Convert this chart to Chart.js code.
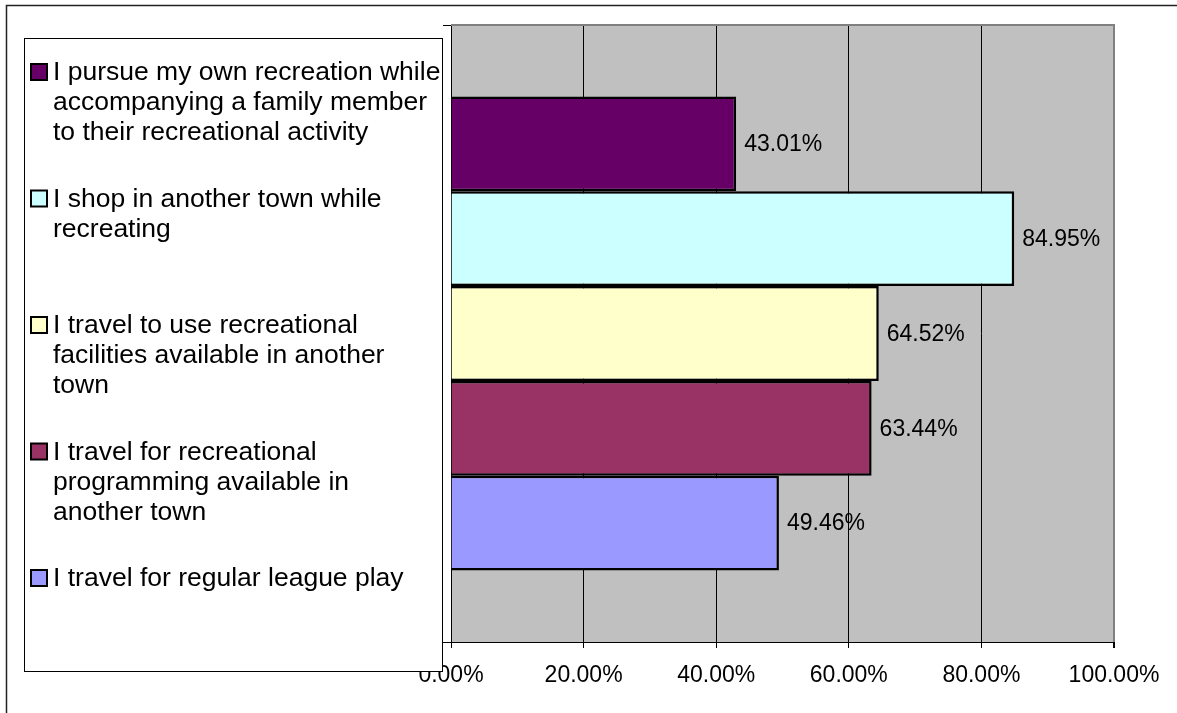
<!DOCTYPE html>
<html>
<head>
<meta charset="utf-8">
<script src="https://cdn.jsdelivr.net/npm/chart.js@4.4.1/dist/chart.umd.min.js"></script>
<style>
  html, body { margin: 0; padding: 0; background: #fff; }
  canvas { display: block; }
</style>
</head>
<body>
<canvas id="chart1" width="1177" height="713"></canvas>
<script>
// survey answers, one bar per answer, top to bottom
const answers = [
  ['I pursue my own recreation while', 'accompanying a family member', 'to their recreational activity'],
  ['I shop in another town while', 'recreating'],
  ['I travel to use recreational', 'facilities available in another', 'town'],
  ['I travel for recreational', 'programming available in', 'another town'],
  ['I travel for regular league play']
]
const percents = [43.01, 84.95, 64.52, 63.44, 49.46]
const colors = ['#660066', '#CCFFFF', '#FFFFCC', '#993366', '#9999FF']
const xTicks = [0, 20, 40, 60, 80, 100]

const FONT = '"Liberation Sans", Arial, sans-serif'

const cht1 = document.getElementById('chart1')

// gray plot background + gray top/right edge
const plotBack = {
  id: 'plotBack',
  beforeDraw(chart) {
    const a = chart.chartArea
    const ctx = chart.ctx
    ctx.save()
    // outer frame (top and left edges only)
    ctx.strokeStyle = '#222'
    ctx.lineWidth = 1.5
    ctx.beginPath()
    ctx.moveTo(6.5, 713)
    ctx.lineTo(6.5, 5.5)
    ctx.lineTo(1177, 5.5)
    ctx.stroke()
    ctx.fillStyle = '#C0C0C0'
    ctx.fillRect(a.left, a.top, a.right - a.left, a.bottom - a.top)
    ctx.restore()
  },
  beforeDatasetsDraw(chart) {
    const a = chart.chartArea
    const ctx = chart.ctx
    ctx.save()
    ctx.strokeStyle = '#808080'
    ctx.lineWidth = 2
    ctx.beginPath()
    ctx.moveTo(a.left, a.top)
    ctx.lineTo(a.right, a.top)
    ctx.lineTo(a.right, a.bottom)
    ctx.stroke()
    ctx.restore()
  }
}

// value text to the right of each bar
const valueLabels = {
  id: 'valueLabels',
  afterDatasetsDraw(chart) {
    const ctx = chart.ctx
    ctx.save()
    ctx.fillStyle = '#000'
    ctx.font = '23px ' + FONT
    ctx.textBaseline = 'middle'
    ctx.textAlign = 'left'
    chart.data.datasets.forEach((ds, i) => {
      const bar = chart.getDatasetMeta(i).data[0]
      ctx.fillText(ds.data[0].toFixed(2) + '%', bar.x + 8, bar.y + 1)
    })
    ctx.restore()
  }
}

// boxed legend on the left, drawn last so it sits over the axis corner
const boxLegend = {
  id: 'boxLegend',
  afterDraw(chart) {
    const ctx = chart.ctx
    ctx.save()
    ctx.fillStyle = '#fff'
    ctx.fillRect(24.5, 38.5, 418, 633)
    ctx.strokeStyle = '#000'
    ctx.lineWidth = 1
    ctx.strokeRect(24.5, 38.5, 418, 633)
    ctx.font = '26.5px ' + FONT
    ctx.textBaseline = 'middle'
    ctx.textAlign = 'left'
    answers.forEach((lines, i) => {
      const y0 = 72 + i * 126.5
      ctx.fillStyle = colors[i]
      ctx.fillRect(31, y0 - 8, 16, 16)
      ctx.strokeStyle = '#000'
      ctx.lineWidth = 2
      ctx.strokeRect(31, y0 - 8, 16, 16)
      ctx.fillStyle = '#000'
      lines.forEach((t, j) => ctx.fillText(t, 53, y0 + 1 + j * 30))
    })
    ctx.restore()
  }
}

new Chart(cht1, {
  type: 'bar',
  data: {
    labels: [''],
    datasets: answers.map((lines, i) => ({
      label: lines.join(' '),
      data: [percents[i]],
      backgroundColor: colors[i],
      borderColor: '#000',
      borderWidth: 2.5,
      categoryPercentage: 0.768,
      barPercentage: 1
    }))
  },
  options: {
    indexAxis: 'y',
    responsive: false,
    animation: false,
    layout: { padding: { top: 25, right: 63, left: 0, bottom: 0 } },
    plugins: {
      legend: { display: false },
      tooltip: { enabled: false }
    },
    scales: {
      x: {
        min: 0,
        max: 100,
        afterBuildTicks: s => { s.ticks = xTicks.map(v => ({ value: v })) },
        afterFit: s => { s.height = 71 },
        ticks: {
          color: '#000',
          padding: 14,
          maxRotation: 0,
          font: { family: FONT, size: 23 },
          callback: v => v.toFixed(2) + '%'
        },
        grid: {
          color: c => c.tick && c.tick.value === 100 ? '#808080' : '#000',
          lineWidth: c => c.tick && c.tick.value === 100 ? 2 : 1,
          tickColor: '#000',
          tickLength: 6
        },
        border: { color: '#000', width: 1 }
      },
      y: {
        afterFit: s => { s.width = 451 },
        ticks: { display: false },
        grid: {
          drawOnChartArea: false,
          tickLength: 8,
          tickColor: '#000'
        },
        border: { color: '#000', width: 1 }
      }
    }
  },
  plugins: [plotBack, valueLabels, boxLegend]
})
</script>
</body>
</html>
